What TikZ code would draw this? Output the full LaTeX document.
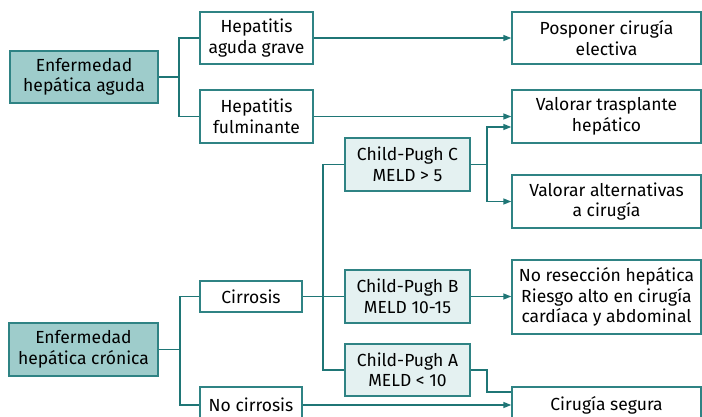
\documentclass[tikz,border=0pt]{standalone}
\usepackage{fontspec}
\setmainfont{Fira Sans}
\usetikzlibrary{arrows.meta}
\definecolor{tealline}{HTML}{1F7676}
\definecolor{tealedge}{HTML}{2F8384}
\definecolor{tealdark}{HTML}{9ECCCB}
\definecolor{teallight}{HTML}{E4F1F1}
\begin{document}
\begin{tikzpicture}[x=1pt,y=-1pt,
    box/.style={draw=tealedge,line width=1.4pt,fill=white,align=center,inner sep=0pt,
      font=\fontsize{17.5}{20.5}\selectfont},
    darkbox/.style={box,fill=tealdark},
    lightbox/.style={box,fill=teallight},
    link/.style={draw=tealline,line width=1.4pt},
    arr/.style={link,-{Triangle[length=8pt,width=6pt]}}]
    	\useasboundingbox (0,0) rectangle (702,416);

    	\node[darkbox,minimum width=148pt,minimum height=52pt] (aguda) at (84,77) {Enfermedad\\hepática aguda};
    	\node[box,minimum width=113pt,minimum height=52pt] (grave) at (256.5,38) {Hepatitis\\aguda grave};
    	\node[box,minimum width=113pt,minimum height=53pt] (fulm) at (256.5,116.5) {Hepatitis\\fulminante};
    	\node[box,minimum width=189pt,minimum height=52pt] (posp) at (606.5,38) {Posponer cirugía\\electiva};
    	\node[box,minimum width=189pt,minimum height=53pt] (trasp) at (606.5,116.5) {Valorar trasplante\\hepático};
    	\node[lightbox,minimum width=125pt,minimum height=53pt] (cpc) at (407.5,164.5) {Child-Pugh C\\MELD > 5};
    	\node[box,minimum width=189pt,minimum height=53pt] (alt) at (606.5,201.5) {Valorar alternativas\\a cirugía};
    	\node[box,minimum width=102pt,minimum height=31pt] (cirr) at (251,296.5) {Cirrosis};
    	\node[lightbox,minimum width=125pt,minimum height=53pt] (cpb) at (407.5,296.5) {Child-Pugh B\\MELD 10-15};
    	\node[box,minimum width=189pt,minimum height=74pt] (nores) at (606.5,297) {No resección hepática\\Riesgo alto en cirugía\\cardíaca y abdominal};
    	\node[darkbox,minimum width=149pt,minimum height=53pt] (cron) at (83.5,349.5) {Enfermedad\\hepática crónica};
    	\node[lightbox,minimum width=125pt,minimum height=52pt] (cpa) at (407.5,370) {Child-Pugh A\\MELD < 10};
    	\node[box,minimum width=102pt,minimum height=36pt] (nocirr) at (251,405) {No cirrosis};
    	\node[box,minimum width=189pt,minimum height=36pt] (segura) at (606.5,405) {Cirugía segura};

    	\coordinate (ja) at (179,77);
    	\coordinate (jk) at (180,349.5);
    	\coordinate (jm) at (323,296.5);
    	\coordinate (jc) at (487,164.5);
    	\coordinate (jd) at (487,370);

    	\draw[link] (aguda) -- (ja);
    	\draw[link] (grave.west) -| (ja) |- (fulm.west);
    	\draw[arr] (grave) -- (posp);
    	\draw[arr] (fulm) -- (trasp);

    	\draw[link] (cron) -- (jk);
    	\draw[link] (cirr.west) -| (jk) |- (nocirr.west);
    	\draw[link] (cirr) -- (cpb);
    	\draw[link] (cpc.west) -| (jm) |- (cpa.west);

    	\draw[link] (cpc) -- (jc);
    	\draw[arr] (jc) |- ([yshift=-10.5pt]trasp.west);
    	\draw[arr] (jc) |- (alt.west);
    	\draw[arr] (cpb) -- (cpb -| nores.west);
    	\draw[link] (cpa) -- (jd) |- ([yshift=13pt]segura.west);
    	\draw[arr] (nocirr) -- (segura);
    	\end{tikzpicture}
\end{document}
